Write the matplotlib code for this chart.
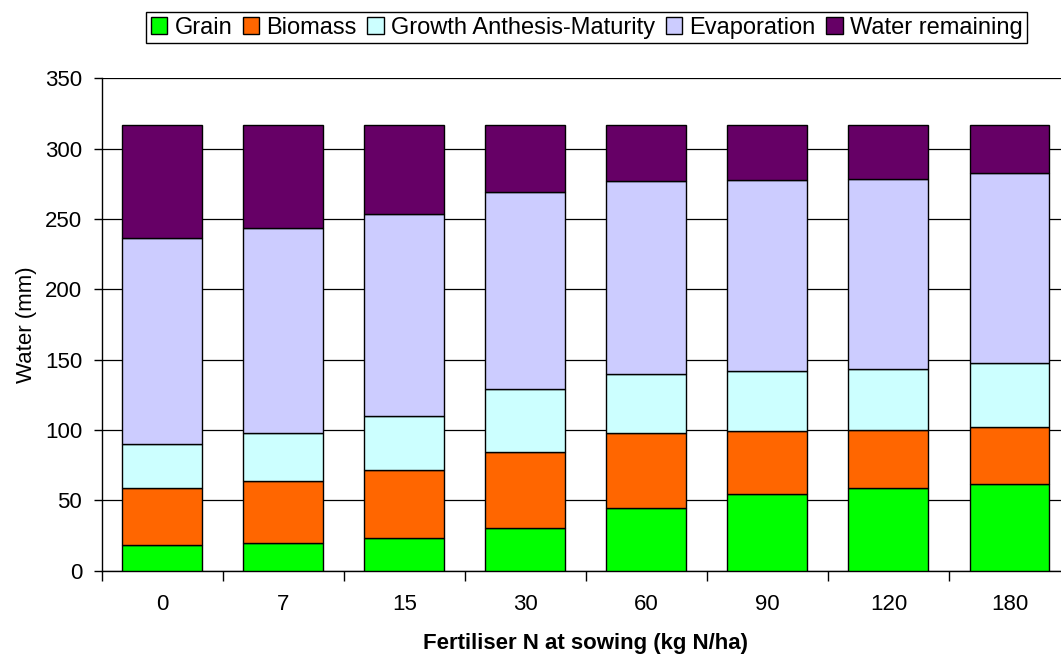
import numpy as np
import matplotlib
matplotlib.use("Agg")
import matplotlib.pyplot as plt
from matplotlib.ticker import FixedLocator, NullFormatter

plt.rcParams['font.family'] = ['Liberation Sans', 'DejaVu Sans']

# fertiliser rates (kg N/ha) and water use components (mm)
rates = ['0', '7', '15', '30', '60', '90', '120', '180']
grain = [18.3, 19.9, 23.4, 30.3, 44.5, 54.3, 58.5, 61.4]
biomass = [40.4, 44.0, 48.1, 53.8, 53.1, 44.9, 41.6, 40.9]
growth = [31.1, 34.1, 38.6, 45.2, 42.1, 42.4, 42.9, 45.0]
evaporation = [146.3, 145.6, 143.5, 139.9, 137.1, 136.1, 135.7, 135.1]
water_left = [80.4, 72.9, 62.9, 47.3, 39.7, 38.8, 37.8, 34.1]

labels = ['Grain', 'Biomass', 'Growth Anthesis-Maturity', 'Evaporation', 'Water remaining']
colors = ['#00ff00', '#ff6600', '#ccffff', '#ccccff', '#660066']

fig = plt.figure(figsize=(10.61, 6.57), dpi=100)
ax = fig.add_axes([0.0957, 0.1314, 0.9128, 0.7496])

x = np.arange(len(rates))
bottom = np.zeros(len(rates))
for vals, lab, col in zip([grain, biomass, growth, evaporation, water_left], labels, colors):
    ax.bar(x, vals, width=0.66, bottom=bottom, color=col, edgecolor='black',
           linewidth=1.0, label=lab, zorder=3)
    bottom += np.array(vals)

ax.set_ylim(0, 350)
ax.set_yticks(np.arange(0, 351, 50))
ax.set_xlim(-0.5, len(rates) - 0.5)
ax.grid(axis='y', color='black', linewidth=0.9, zorder=0)

# ticks between categories, labels at centres
ax.xaxis.set_major_locator(FixedLocator(np.arange(-0.5, len(rates), 1.0)))
ax.xaxis.set_major_formatter(NullFormatter())
ax.xaxis.set_minor_locator(FixedLocator(x))
ax.set_xticklabels(rates, minor=True)
ax.tick_params(axis='x', which='major', length=7, width=1, direction='out')
ax.tick_params(axis='x', which='minor', length=0, pad=17, labelsize=16)
ax.tick_params(axis='y', length=6, width=1, direction='out', labelsize=16, pad=8)

for s in ['top', 'right']:
    ax.spines[s].set_visible(False)
ax.spines['left'].set_linewidth(1)
ax.spines['bottom'].set_linewidth(1)

ax.set_ylabel('Water (mm)', fontsize=16, labelpad=6)
ax.set_xlabel('Fertiliser N at sowing (kg N/ha)', fontsize=16, fontweight='bold', labelpad=12.5)

leg = fig.legend(loc='upper center', bbox_to_anchor=(0.553, 0.982), ncol=5, fontsize=17,
                 frameon=True, fancybox=False, edgecolor='black', framealpha=1,
                 handlelength=0.7, handleheight=0.7, handletextpad=0.3,
                 columnspacing=0.45, borderpad=0.2, borderaxespad=0)
leg.get_frame().set_linewidth(1)

fig.savefig('out.png', dpi=100)
